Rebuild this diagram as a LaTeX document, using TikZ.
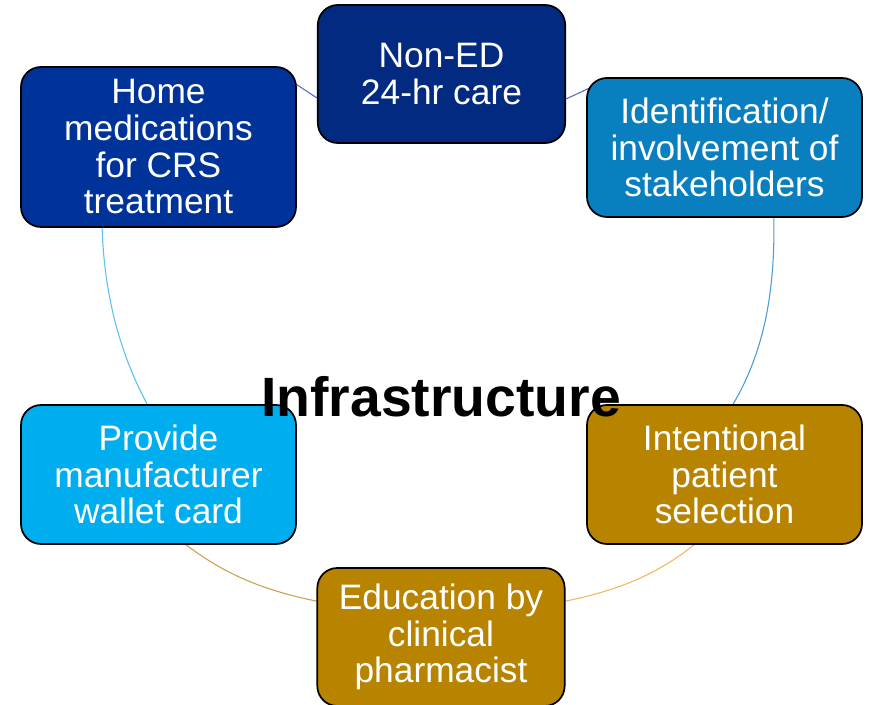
\documentclass[tikz,border=0pt]{standalone}
\usepackage{fontspec}
\setmainfont{Liberation Sans}
\usetikzlibrary{backgrounds}
\definecolor{cHome}{HTML}{00339A}
\definecolor{cNon}{HTML}{012A80}
\definecolor{cIdent}{HTML}{0A7FBF}
\definecolor{cProv}{HTML}{00AEEF}
\definecolor{cGold}{HTML}{B88400}
\definecolor{aBlueA}{HTML}{5468C8}
\definecolor{aBlueB}{HTML}{4F6BC8}
\definecolor{aSteel}{HTML}{4A9AD4}
\definecolor{aOrange}{HTML}{F5B55A}
\definecolor{aTan}{HTML}{C8A050}
\definecolor{aSky}{HTML}{5BC0F0}
\tikzset{
  box/.style={draw=black, line width=1.3pt, rounded corners=15pt, text=white,
    align=center, inner sep=0pt,
    font=\fontsize{26.5}{27.5}\selectfont},
  wbox/.style={box, minimum width=206.25pt, minimum height=104.25pt},
  nbox/.style={box, minimum width=185.5pt, minimum height=103.5pt},
  arcline/.style={line width=0.8pt}
}
\begin{document}
\begin{tikzpicture}[x=0.75pt, y=-0.75pt]
\useasboundingbox (0,0) rectangle (869,705);
\node[box, fill=cHome, minimum width=206.25pt, minimum height=120pt] (home) at (158.5,147) {Home\\medications\\for CRS\\treatment};
\node[nbox, fill=cNon] (noned) at (441.5,74) {Non-ED\\24-hr care};
\node[wbox, fill=cIdent] (ident) at (724.5,147.5) {Identification/\\involvement of\\stakeholders};
\node[wbox, fill=cProv] (prov) at (158.5,474.5) {Provide\\manufacturer\\wallet card};
\node[wbox, fill=cGold] (intent) at (724.5,474.5) {Intentional\\patient\\selection};
\node[nbox, fill=cGold] (edu) at (441,637) {Education by\\clinical\\pharmacist};
\node[font=\bfseries\fontsize{41.5}{44}\selectfont] (infra) at (441,397) {Infrastructure};
\begin{scope}[on background layer]
\draw[arcline, aBlueA] ([shift={(-16,8)}]home.north east) -- (noned.west |- 0,98);
\draw[arcline, aBlueB] (noned.east |- 0,99) -- ([shift={(16,5)}]ident.north west);
\draw[arcline, aSteel] ([shift={(-89,0)}]ident.south east) .. controls (775,290) and (765,350) .. ([shift={(147,0)}]intent.north west);
\draw[arcline, aOrange] ([shift={(108,0)}]intent.south west) .. controls (655,576) and (615,591) .. ([shift={(0,34)}]edu.north east);
\draw[arcline, aTan] ([shift={(0,34)}]edu.north west) .. controls (267,591) and (227,576) .. ([shift={(166,0)}]prov.south west);
\draw[arcline, aSky] ([shift={(127,0)}]prov.north west) .. controls (118,350) and (104,290) .. ([shift={(82,0)}]home.south west);
\end{scope}
\end{tikzpicture}
\end{document}
